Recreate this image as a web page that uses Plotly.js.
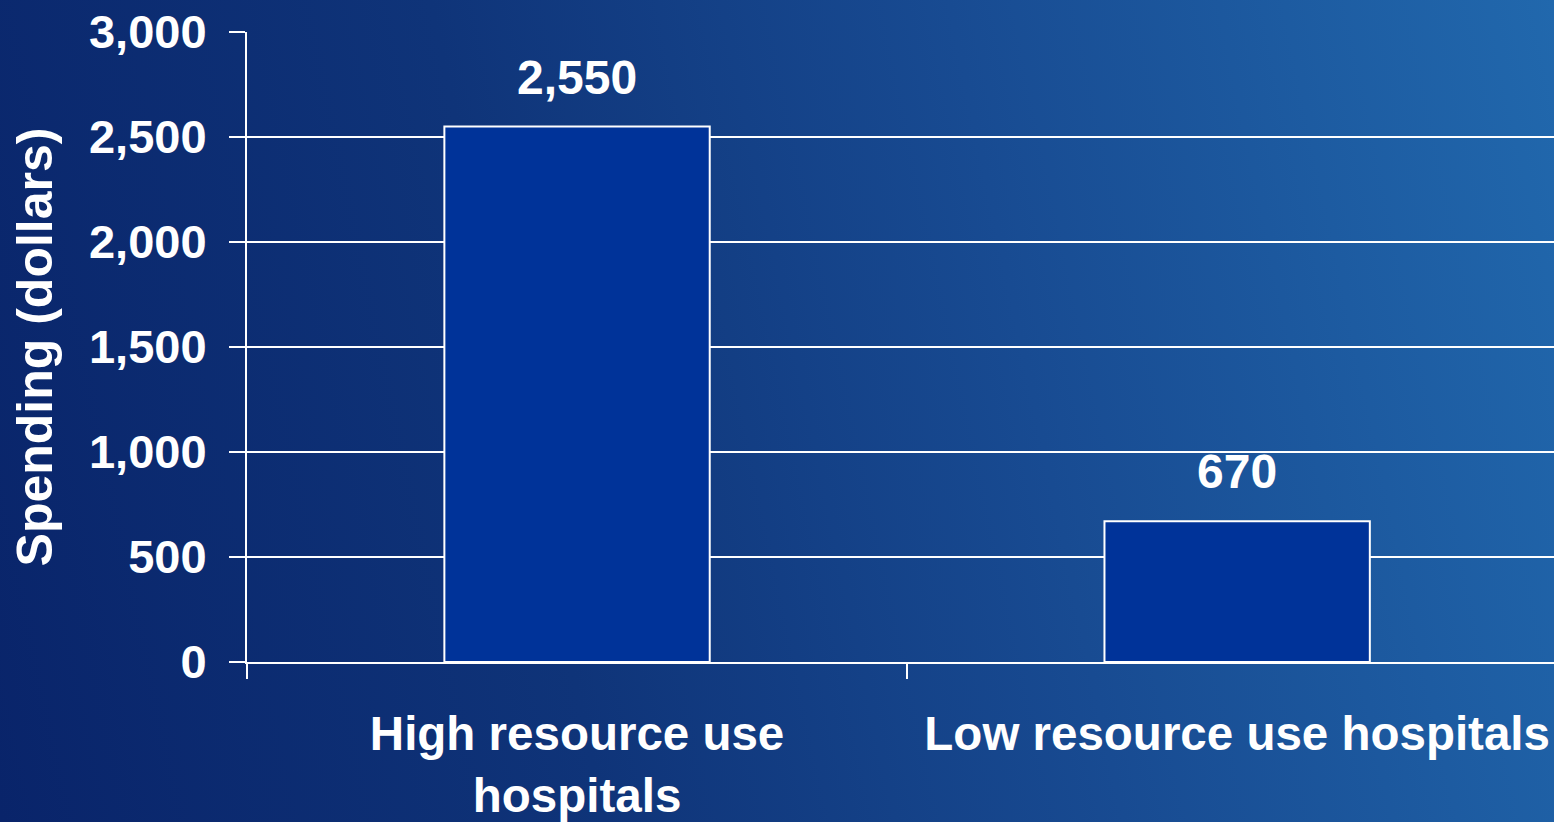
<!DOCTYPE html>
<html>
<head>
<meta charset="utf-8">
<script src="https://cdn.plot.ly/plotly-3.0.1.min.js"></script>
<style>
  html, body { margin: 0; padding: 0; width: 1554px; height: 822px; overflow: hidden; }
  body { background: linear-gradient(78deg, #09246a 0%, #0f3479 35%, #184b92 65%, #2168ad 100%); }
  #chart { width: 1554px; height: 822px; }
</style>
</head>
<body>
<div id="chart"></div>
<script>
const categories = ["High resource use<br>hospitals", "Low resource use hospitals"];
const spending = [2550, 670];
const yTickValues = [0, 500, 1000, 1500, 2000, 2500, 3000];
const yTitle = "Spending (dollars)";

const FONT = "'Liberation Sans', Arial, sans-serif";

const trace = {
  type: "bar",
  x: categories,
  y: spending,
  width: 0.402,
  marker: { color: "#003399", line: { color: "#ffffff", width: 2 } },
  hoverinfo: "none"
};

const annotations = categories.map((c, i) => ({
  x: c, y: spending[i], xref: "x", yref: "y",
  text: spending[i].toLocaleString("en-US"),
  showarrow: false, yanchor: "bottom", yshift: 21,
  font: { family: FONT, size: 48, color: "#ffffff", weight: 700 }
}));

const layout = {
  width: 1554, height: 822,
  paper_bgcolor: "rgba(0,0,0,0)",
  plot_bgcolor: "rgba(0,0,0,0)",
  margin: { l: 247, r: 0, t: 32, b: 160 },
  showlegend: false,
  font: { family: FONT, color: "#ffffff", weight: 700 },
  xaxis: {
    type: "category",
    range: [-0.5, 1.48],
    showgrid: false,
    zeroline: false,
    showline: true, linecolor: "#ffffff", linewidth: 2,
    ticks: "outside", tickson: "boundaries", ticklen: 15, tickwidth: 2, tickcolor: "#ffffff",
    tickfont: { family: FONT, size: 47.5, color: "#ffffff", weight: 700 },
    ticklabelstandoff: 29,
    automargin: false
  },
  yaxis: {
    range: [0, 3000],
    tickvals: yTickValues,
    tickformat: ",",
    showgrid: true, gridcolor: "#ffffff", gridwidth: 2,
    zeroline: false,
    showline: true, linecolor: "#ffffff", linewidth: 2,
    ticks: "outside", ticklen: 16, tickwidth: 2, tickcolor: "#ffffff",
    tickfont: { family: FONT, size: 47, color: "#ffffff", weight: 700 },
    ticklabelstandoff: 13,
    title: { text: yTitle, font: { family: FONT, size: 50, color: "#ffffff", weight: 700 }, standoff: 20 },
    automargin: false
  },
  annotations: annotations
};

Plotly.newPlot("chart", [trace], layout, { displayModeBar: false, staticPlot: true });
</script>
</body>
</html>
